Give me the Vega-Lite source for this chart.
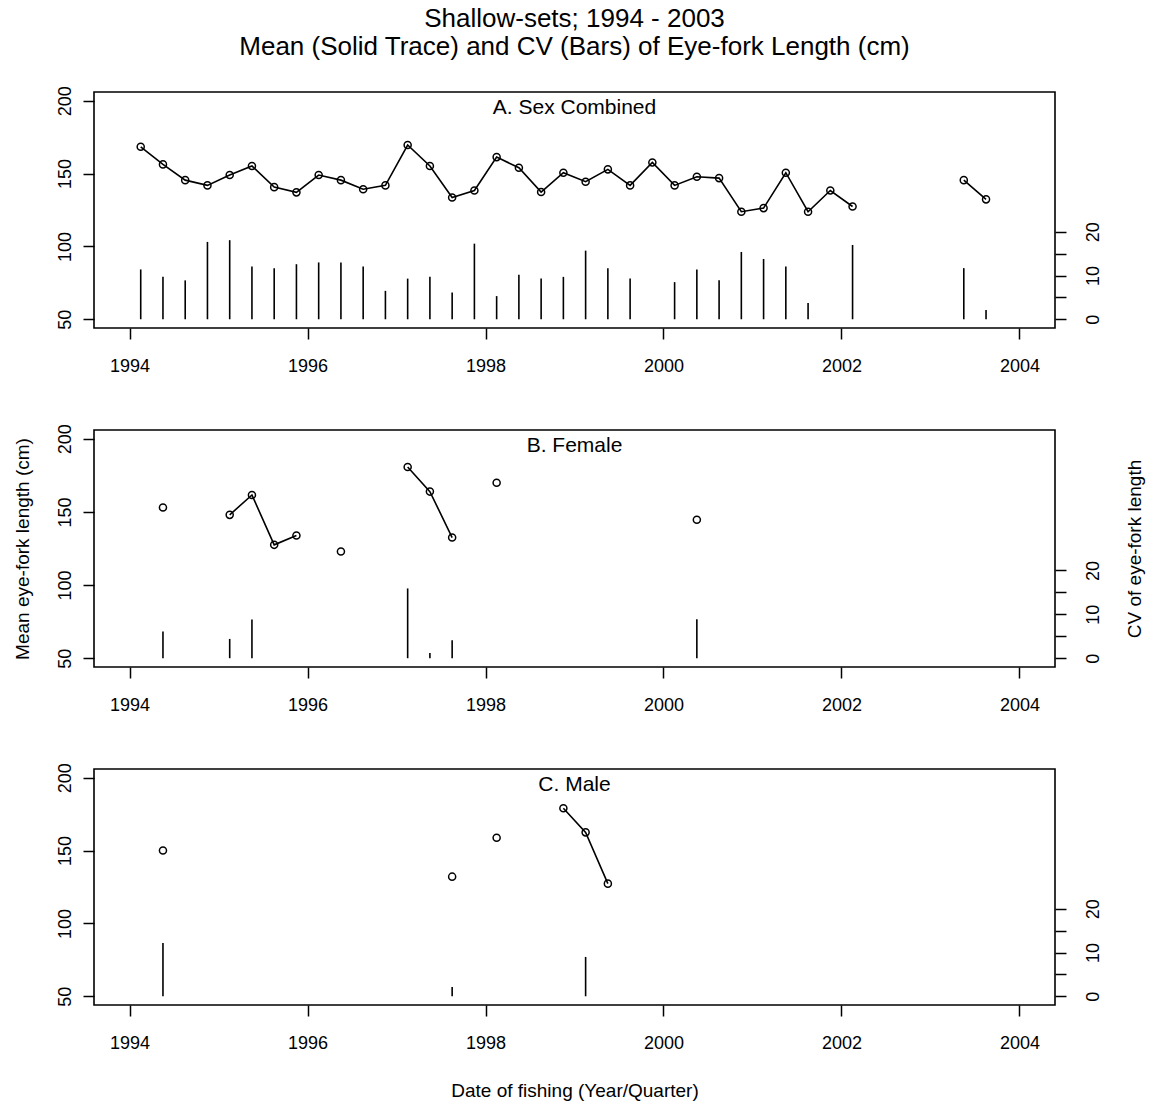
{
  "$schema": "https://vega.github.io/schema/vega-lite/v6.json",
  "padding": {"left": 12, "top": 5, "right": 5, "bottom": 5},
  "bounds": "flush",
  "spacing": 102,
  "title": {
    "text": ["Shallow-sets; 1994 - 2003", "Mean (Solid Trace) and CV (Bars) of Eye-fork Length (cm)"],
    "fontSize": 26,
    "lineHeight": 28,
    "fontWeight": "normal",
    "anchor": "middle",
    "frame": "group",
    "offset": 25,
    "color": "black"
  },
  "config": {
    "font": "Liberation Sans",
    "view": {"stroke": "black", "strokeWidth": 1.6},
    "axis": {
      "domain": false,
      "grid": false,
      "tickColor": "black",
      "tickWidth": 1.5,
      "tickSize": 11,
      "labelColor": "black",
      "labelFontSize": 18,
      "titleColor": "black",
      "titleFontSize": 19,
      "titleFontWeight": "normal"
    },
    "title": {"color": "black", "fontWeight": "normal"}
  },
  "datasets": {
    "lengths": [
      {"panel": "A", "date": 1994.125, "mean": 168.4, "cv": 11.4},
      {"panel": "A", "date": 1994.375, "mean": 156.3, "cv": 9.7},
      {"panel": "A", "date": 1994.625, "mean": 145.5, "cv": 8.9},
      {"panel": "A", "date": 1994.875, "mean": 141.9, "cv": 17.7},
      {"panel": "A", "date": 1995.125, "mean": 149.0, "cv": 18.1},
      {"panel": "A", "date": 1995.375, "mean": 155.2, "cv": 12.1},
      {"panel": "A", "date": 1995.625, "mean": 140.7, "cv": 11.7},
      {"panel": "A", "date": 1995.875, "mean": 137.1, "cv": 12.6},
      {"panel": "A", "date": 1996.125, "mean": 149.0, "cv": 13.0},
      {"panel": "A", "date": 1996.375, "mean": 145.5, "cv": 13.0},
      {"panel": "A", "date": 1996.625, "mean": 139.3, "cv": 12.1},
      {"panel": "A", "date": 1996.875, "mean": 141.9, "cv": 6.5},
      {"panel": "A", "date": 1997.125, "mean": 169.6, "cv": 9.3},
      {"panel": "A", "date": 1997.375, "mean": 155.2, "cv": 9.7},
      {"panel": "A", "date": 1997.625, "mean": 133.6, "cv": 6.1},
      {"panel": "A", "date": 1997.875, "mean": 138.4, "cv": 17.3},
      {"panel": "A", "date": 1998.125, "mean": 161.3, "cv": 5.3},
      {"panel": "A", "date": 1998.375, "mean": 154.0, "cv": 10.2},
      {"panel": "A", "date": 1998.625, "mean": 137.3, "cv": 9.3},
      {"panel": "A", "date": 1998.875, "mean": 150.6, "cv": 9.7},
      {"panel": "A", "date": 1999.125, "mean": 144.4, "cv": 15.7},
      {"panel": "A", "date": 1999.375, "mean": 152.9, "cv": 11.7},
      {"panel": "A", "date": 1999.625, "mean": 141.9, "cv": 9.3},
      {"panel": "A", "date": 1999.875, "mean": 157.6, "cv": null},
      {"panel": "A", "date": 2000.125, "mean": 141.9, "cv": 8.5},
      {"panel": "A", "date": 2000.375, "mean": 147.8, "cv": 11.4},
      {"panel": "A", "date": 2000.625, "mean": 146.9, "cv": 8.9},
      {"panel": "A", "date": 2000.875, "mean": 123.8, "cv": 15.4},
      {"panel": "A", "date": 2001.125, "mean": 126.3, "cv": 13.8},
      {"panel": "A", "date": 2001.375, "mean": 150.6, "cv": 12.1},
      {"panel": "A", "date": 2001.625, "mean": 123.8, "cv": 3.7},
      {"panel": "A", "date": 2001.875, "mean": 138.4, "cv": null},
      {"panel": "A", "date": 2002.125, "mean": 127.4, "cv": 17.0},
      {"panel": "A", "date": 2002.375, "mean": null, "cv": null},
      {"panel": "A", "date": 2003.375, "mean": 145.5, "cv": 11.7},
      {"panel": "A", "date": 2003.625, "mean": 132.3, "cv": 2.1},
      {"panel": "B", "date": 1994.375, "mean": 153.0, "cv": 6.1},
      {"panel": "B", "date": 1994.625, "mean": null, "cv": null},
      {"panel": "B", "date": 1995.125, "mean": 148.0, "cv": 4.4},
      {"panel": "B", "date": 1995.375, "mean": 161.6, "cv": 8.8},
      {"panel": "B", "date": 1995.625, "mean": 127.5, "cv": null},
      {"panel": "B", "date": 1995.875, "mean": 133.9, "cv": null},
      {"panel": "B", "date": 1996.125, "mean": null, "cv": null},
      {"panel": "B", "date": 1996.375, "mean": 123.0, "cv": null},
      {"panel": "B", "date": 1996.625, "mean": null, "cv": null},
      {"panel": "B", "date": 1997.125, "mean": 180.7, "cv": 15.9},
      {"panel": "B", "date": 1997.375, "mean": 163.9, "cv": 1.2},
      {"panel": "B", "date": 1997.625, "mean": 132.5, "cv": 4.1},
      {"panel": "B", "date": 1997.875, "mean": null, "cv": null},
      {"panel": "B", "date": 1998.125, "mean": 170.0, "cv": null},
      {"panel": "B", "date": 1998.375, "mean": null, "cv": null},
      {"panel": "B", "date": 2000.375, "mean": 144.6, "cv": 8.9},
      {"panel": "C", "date": 1994.375, "mean": 150.1, "cv": 12.2},
      {"panel": "C", "date": 1994.625, "mean": null, "cv": null},
      {"panel": "C", "date": 1997.625, "mean": 132.1, "cv": 2.1},
      {"panel": "C", "date": 1997.875, "mean": null, "cv": null},
      {"panel": "C", "date": 1998.125, "mean": 158.8, "cv": null},
      {"panel": "C", "date": 1998.375, "mean": null, "cv": null},
      {"panel": "C", "date": 1998.875, "mean": 179.1, "cv": null},
      {"panel": "C", "date": 1999.125, "mean": 162.5, "cv": 9.0},
      {"panel": "C", "date": 1999.375, "mean": 127.3, "cv": null}
    ]
  },
  "vconcat": [
    {
      "width": 961, "height": 236,
      "data": {"name": "lengths"},
      "transform": [{"filter": "datum.panel === 'A'"}],
      "layer": [
        {"layer": [
          {"mark": {"type": "line", "color": "black", "strokeWidth": 1.6, "invalid": "break-paths-show-domains"},
           "encoding": {
             "x": {"field": "date", "type": "quantitative", "scale": {"domain": [1993.6, 2004.4], "nice": false, "zero": false}, "axis": {"values": [1994, 1996, 1998, 2000, 2002, 2004], "format": "d", "title": null, "labelPadding": 18}},
             "y": {"field": "mean", "type": "quantitative", "scale": {"domain": [44, 206], "nice": false, "zero": false}, "axis": {"values": [50, 100, 150, 200], "labelAngle": 270, "labelAlign": "center", "labelBaseline": "middle", "labelPadding": 18, "title": null}}
           }},
          {"mark": {"type": "point", "shape": "circle", "filled": false, "color": "black", "size": 50, "strokeWidth": 1.5, "opacity": 1},
           "encoding": {
             "x": {"field": "date", "type": "quantitative"},
             "y": {"field": "mean", "type": "quantitative"}
           }},
          {"data": {"values": [{"label": "A. Sex Combined"}]},
           "mark": {"type": "text", "font": "Liberation Sans", "fontSize": 21, "color": "black", "align": "center", "baseline": "alphabetic"},
           "encoding": {
             "text": {"field": "label"},
             "x": {"datum": 1999},
             "y": {"datum": 191.2}
           }}
        ]},
        {"mark": {"type": "rule", "color": "black", "strokeWidth": 1.6},
         "encoding": {
           "x": {"field": "date", "type": "quantitative"},
           "y": {"field": "cv", "type": "quantitative", "scale": {"domain": [-2, 52], "nice": false, "zero": false}, "axis": {"orient": "right", "values": [0, 5, 10, 15, 20], "labelExpr": "datum.value % 10 === 0 ? datum.label : ''", "labelAngle": 270, "labelAlign": "center", "labelBaseline": "middle", "labelPadding": 27, "title": null}},
           "y2": {"datum": 0}
         }}
      ],
      "resolve": {"scale": {"y": "independent"}, "axis": {"y": "independent"}}
    },
    {
      "width": 961, "height": 237,
      "data": {"name": "lengths"},
      "transform": [{"filter": "datum.panel === 'B'"}],
      "layer": [
        {"layer": [
          {"mark": {"type": "line", "color": "black", "strokeWidth": 1.6, "invalid": "break-paths-show-domains"},
           "encoding": {
             "x": {"field": "date", "type": "quantitative", "scale": {"domain": [1993.6, 2004.4], "nice": false, "zero": false}, "axis": {"values": [1994, 1996, 1998, 2000, 2002, 2004], "format": "d", "title": null, "labelPadding": 18}},
             "y": {"field": "mean", "type": "quantitative", "scale": {"domain": [44, 206], "nice": false, "zero": false}, "axis": {"values": [50, 100, 150, 200], "labelAngle": 270, "labelAlign": "center", "labelBaseline": "middle", "labelPadding": 18, "title": "Mean eye-fork length (cm)", "titlePadding": 24}}
           }},
          {"mark": {"type": "point", "shape": "circle", "filled": false, "color": "black", "size": 50, "strokeWidth": 1.5, "opacity": 1},
           "encoding": {
             "x": {"field": "date", "type": "quantitative"},
             "y": {"field": "mean", "type": "quantitative"}
           }},
          {"data": {"values": [{"label": "B. Female"}]},
           "mark": {"type": "text", "font": "Liberation Sans", "fontSize": 21, "color": "black", "align": "center", "baseline": "alphabetic"},
           "encoding": {
             "text": {"field": "label"},
             "x": {"datum": 1999},
             "y": {"datum": 191.2}
           }}
        ]},
        {"mark": {"type": "rule", "color": "black", "strokeWidth": 1.6},
         "encoding": {
           "x": {"field": "date", "type": "quantitative"},
           "y": {"field": "cv", "type": "quantitative", "scale": {"domain": [-2, 52], "nice": false, "zero": false}, "axis": {"orient": "right", "values": [0, 5, 10, 15, 20], "labelExpr": "datum.value % 10 === 0 ? datum.label : ''", "labelAngle": 270, "labelAlign": "center", "labelBaseline": "middle", "labelPadding": 27, "title": "CV of eye-fork length", "titleAngle": 270, "titleBaseline": "top", "titlePadding": 23}},
           "y2": {"datum": 0}
         }}
      ],
      "resolve": {"scale": {"y": "independent"}, "axis": {"y": "independent"}}
    },
    {
      "width": 961, "height": 236,
      "data": {"name": "lengths"},
      "transform": [{"filter": "datum.panel === 'C'"}],
      "layer": [
        {"layer": [
          {"mark": {"type": "line", "color": "black", "strokeWidth": 1.6, "invalid": "break-paths-show-domains"},
           "encoding": {
             "x": {"field": "date", "type": "quantitative", "scale": {"domain": [1993.6, 2004.4], "nice": false, "zero": false}, "axis": {"values": [1994, 1996, 1998, 2000, 2002, 2004], "format": "d", "title": "Date of fishing (Year/Quarter)", "labelPadding": 18, "titlePadding": 29}},
             "y": {"field": "mean", "type": "quantitative", "scale": {"domain": [44, 206], "nice": false, "zero": false}, "axis": {"values": [50, 100, 150, 200], "labelAngle": 270, "labelAlign": "center", "labelBaseline": "middle", "labelPadding": 18, "title": null}}
           }},
          {"mark": {"type": "point", "shape": "circle", "filled": false, "color": "black", "size": 50, "strokeWidth": 1.5, "opacity": 1},
           "encoding": {
             "x": {"field": "date", "type": "quantitative"},
             "y": {"field": "mean", "type": "quantitative"}
           }},
          {"data": {"values": [{"label": "C. Male"}]},
           "mark": {"type": "text", "font": "Liberation Sans", "fontSize": 21, "color": "black", "align": "center", "baseline": "alphabetic"},
           "encoding": {
             "text": {"field": "label"},
             "x": {"datum": 1999},
             "y": {"datum": 191.2}
           }}
        ]},
        {"mark": {"type": "rule", "color": "black", "strokeWidth": 1.6},
         "encoding": {
           "x": {"field": "date", "type": "quantitative"},
           "y": {"field": "cv", "type": "quantitative", "scale": {"domain": [-2, 52], "nice": false, "zero": false}, "axis": {"orient": "right", "values": [0, 5, 10, 15, 20], "labelExpr": "datum.value % 10 === 0 ? datum.label : ''", "labelAngle": 270, "labelAlign": "center", "labelBaseline": "middle", "labelPadding": 27, "title": null}},
           "y2": {"datum": 0}
         }}
      ],
      "resolve": {"scale": {"y": "independent"}, "axis": {"y": "independent"}}
    }
  ]
}
